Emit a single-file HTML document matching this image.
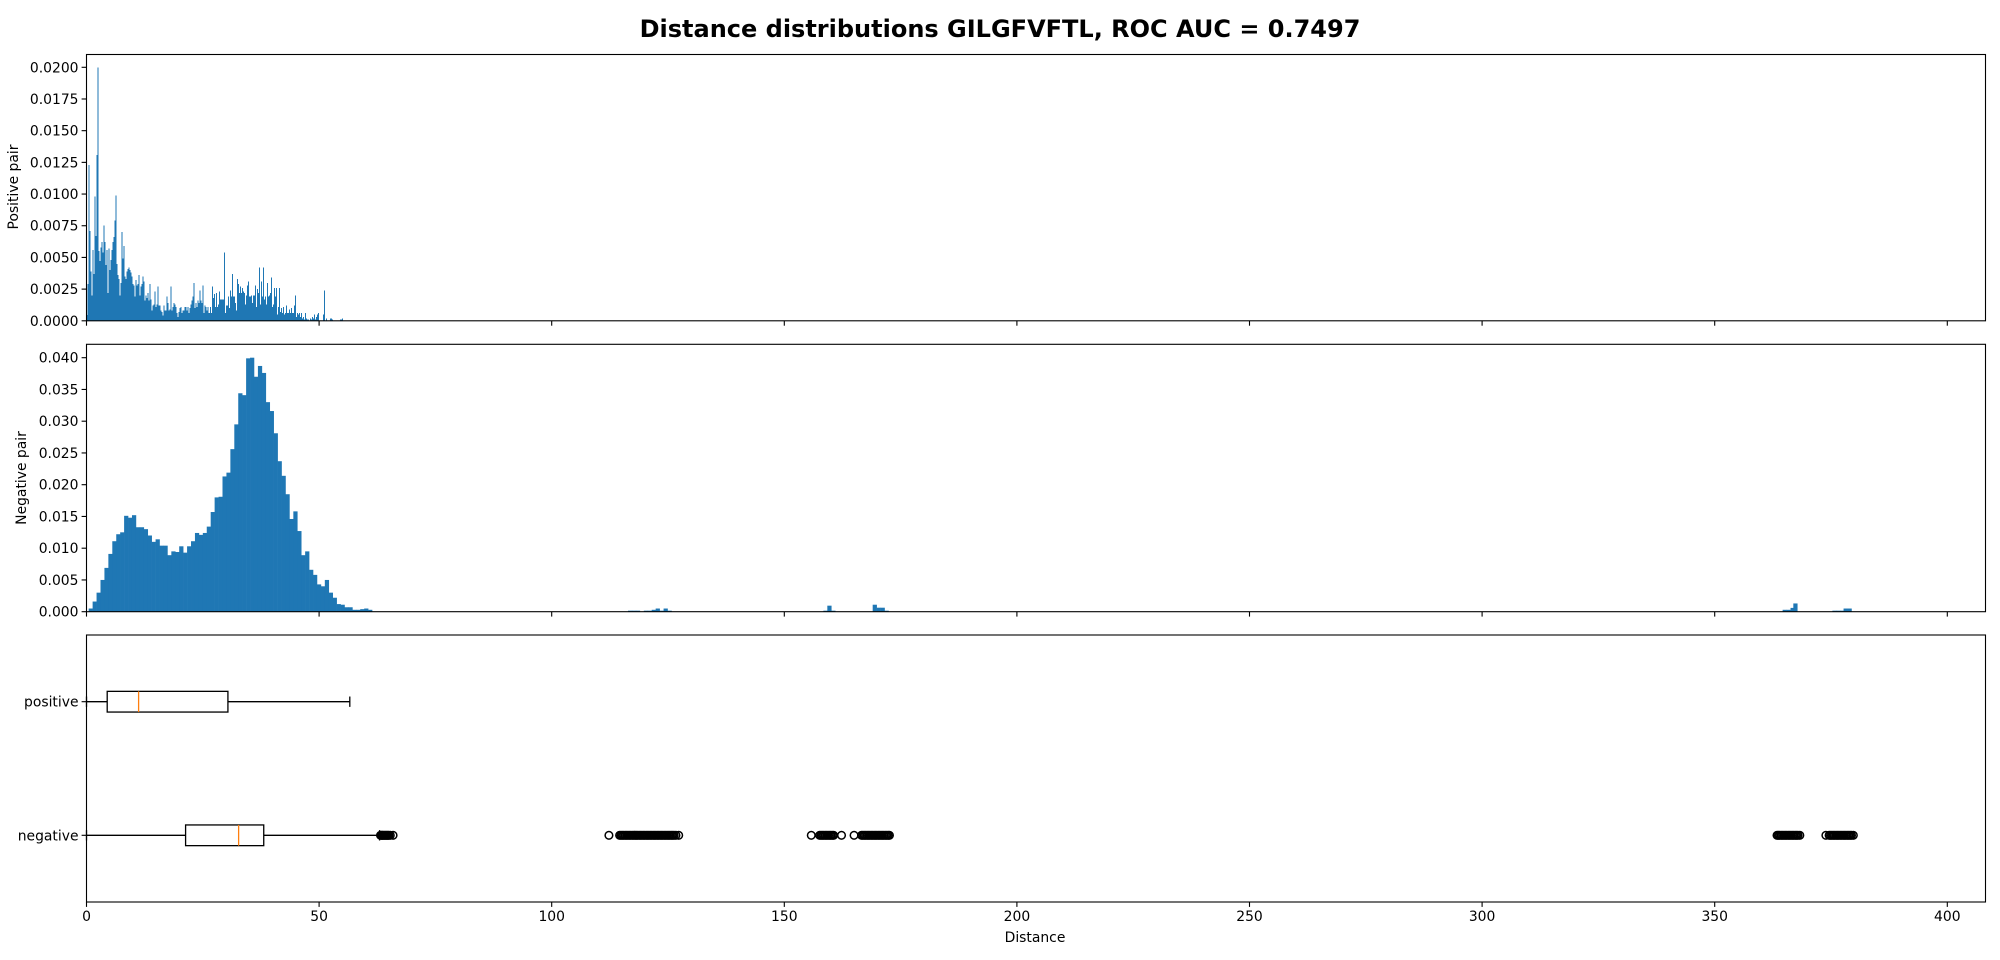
<!DOCTYPE html>
<html><head><meta charset="utf-8"><style>
html,body{margin:0;padding:0;background:#fff;}
svg{display:block;font-family:"DejaVu Sans","Liberation Sans",sans-serif;}
</style></head><body>
<svg id="fig" width="2000" height="960" viewBox="0 0 2000 960" xmlns="http://www.w3.org/2000/svg">
<text x="1000" y="37" text-anchor="middle" font-size="24" font-weight="bold" fill="#000">Distance distributions GILGFVFTL, ROC AUC = 0.7497</text>
<g id="top"></g>
<g id="mid"></g>
<g id="bot"></g>
<text transform="translate(18,187) rotate(-90)" text-anchor="middle" font-size="13.9">Positive pair</text>
<text transform="translate(26,478) rotate(-90)" text-anchor="middle" font-size="13.9">Negative pair</text>
<text x="1035" y="942" text-anchor="middle" font-size="13.9">Distance</text>
</svg>
<script>
// ---- data ----
const xTicks = [0,50,100,150,200,250,300,350,400];
const posTicks = [0,0.0025,0.005,0.0075,0.01,0.0125,0.015,0.0175,0.02];
const negTicks = [0,0.005,0.01,0.015,0.02,0.025,0.03,0.035,0.04];
const posBinStart = 0, posBinWidth = 0.2154;
const posVals = [0.00045,0.0029,0.0123,0.0071,0.0039,0.002,0.0056,0.0037,0.0098,0.0067,0.0131,0.02,0.0055,0.0047,0.0058,0.0062,0.0054,0.0075,0.0062,0.0044,0.0056,0.0022,0.0057,0.004,0.0048,0.0056,0.0062,0.0066,0.0079,0.0099,0.0045,0.0036,0.0033,0.002,0.003,0.007,0.0049,0.0059,0.0035,0.0033,0.0039,0.0041,0.0042,0.004,0.0038,0.0035,0.0029,0.0028,0.0019,0.0032,0.0028,0.0029,0.0036,0.002,0.0027,0.0029,0.0035,0.0031,0.0016,0.002,0.0018,0.0022,0.0016,0.0029,0.0017,0.0008,0.0012,0.0013,0.0023,0.0011,0.0013,0.0027,0.0012,0.0012,0.0008,0.0007,0.0004,0.0012,0.0008,0.0008,0.0019,0.0014,0.0008,0.0009,0.0027,0.0008,0.0011,0.0014,0.0013,0.0011,0.0006,0.0003,0.0007,0.001,0.0011,0.0006,0.0008,0.0008,0.0011,0.0011,0.0008,0.0011,0.0006,0.001,0.0013,0.0016,0.0019,0.003,0.001,0.0014,0.0011,0.0016,0.0014,0.0024,0.0016,0.0014,0.0028,0.0006,0.0012,0.0011,0.0008,0.0011,0.0006,0.0011,0.0006,0.0027,0.0018,0.0021,0.0011,0.0022,0.0011,0.0013,0.0023,0.0017,0.0017,0.0017,0.0017,0.0054,0.0006,0.0012,0.0012,0.0019,0.001,0.0024,0.0019,0.0037,0.0019,0.0019,0.0014,0.0008,0.0033,0.0029,0.0022,0.0027,0.0022,0.0026,0.0023,
0.0022,0.0013,0.002,0.0028,0.0031,0.0019,0.0019,0.002,0.0014,0.002,0.002,0.0028,0.0011,0.0025,0.0022,0.0042,0.0013,0.0031,0.0019,0.0042,0.0017,0.0019,0.0013,0.003,0.0019,0.002,0.0022,0.0034,0.0011,0.0013,0.0026,0.0019,0.0026,0.0005,0.0011,0.0026,0.0007,0.001,0.0006,0.0011,0.0005,0.0006,0.0012,0.0006,0.0006,0.0009,0.0006,0.001,0.0006,0.0006,0.0012,0.002,0.0003,0.0006,0.0005,0.0006,0.0003,0.0006,0.0002,0.0003,0.0001,0.0006,0.0002,0.0001,0.0001,0,0.0002,0.0001,0.0003,0.0002,0.0005,0.0001,0.0003,0.0005,0.0006,0,0,0,0,0.0005,0.0024,0,0.0002,0,0,0,0.0002,0.0002,0.0001,0,0,0,0,0,0,0,0.0001,0.0001,0.0002];
const negBinStart = 0.47, negBinWidth = 0.846;
const negVals = [0.0005,0.0016,0.003,0.005,0.0069,0.0091,0.0111,0.0122,0.0125,0.0151,0.0148,0.0152,0.0133,0.0133,0.0130,0.0120,0.0110,0.0114,0.0104,0.0104,0.0089,0.0095,0.0094,0.0103,0.0093,0.0103,0.0111,0.0124,0.0121,0.0124,0.0134,0.0157,0.0180,0.0181,0.0213,0.0219,0.0256,0.0295,0.0344,0.0341,0.0399,0.0400,0.0370,0.0387,0.0376,0.0330,0.0316,0.0281,0.0237,0.0214,0.0185,0.0146,0.0158,0.0127,0.0089,0.0095,0.0066,0.0058,0.0043,0.0040,0.0050,0.0030,0.0022,0.0012,0.0011,0.0007,0.0007,0.0003,0.0003,0.0004,0.0005,0.0003];
const negFarStarts = [116.4,117.25,118.1,119.8,120.65,121.5,122.35,123.2,124.05,124.9,158.4,159.25,160.1,169.0,169.85,170.7,171.55,364.6,365.45,366.3,366.9,375.3,376.15,377.0,377.7,378.55];
const negFarVals = [0.00016,0.00016,0.00016,0.00016,0.00016,0.0003,0.0005,0.00016,0.0005,0.00016,0.00016,0.00095,0.00016,0.0011,0.00063,0.00063,0.00016,0.0003,0.0003,0.0006,0.0013,0.00016,0.00016,0.00016,0.0005,0.0005];
const boxLabels = ["positive","negative"];
const boxMin = [0,0];
const boxQ1 = [4.45,21.3];
const boxMed = [11.2,32.7];
const boxQ3 = [30.4,38.1];
const boxMax = [56.6,63];
const posOutliers = [];
const negOutliers = [63.2,63.4,63.6,63.8,64.0,64.2,64.4,64.6,64.8,65.0,65.3,65.9,
112.3,114.6,114.9,115.2,115.5,115.8,116.1,116.4,116.7,117,117.3,117.6,117.9,118.2,118.5,118.8,119.1,119.4,119.7,120,120.3,120.6,120.9,121.2,121.5,121.8,122.1,122.4,122.7,123,123.3,123.6,123.9,124.2,124.5,124.8,125.1,125.4,125.7,126,126.3,126.7,127.3,
155.8,157.6,157.9,158.2,158.5,158.8,159.1,159.4,159.7,160,160.3,160.6,162.3,165,166.6,166.9,167.2,167.5,167.8,168.1,168.4,168.7,169,169.3,169.6,169.9,170.2,170.5,170.8,171.1,171.4,171.7,172,172.3,172.6,
363.4,363.7,364,364.3,364.6,364.9,365.2,365.5,365.8,366.1,366.4,366.7,367,367.3,367.6,367.9,368.3,
373.9,374.6,374.9,375.2,375.5,375.8,376.1,376.4,376.7,377,377.3,377.6,377.9,378.2,378.5,378.8,379.1,379.4,379.8];

// ---- layout ----
const L=86.5, R=1985.5, X0=86.5, XS=(1947.3-86.5)/400;
const fx = v => X0 + v*XS;
const NS="http://www.w3.org/2000/svg";
function el(tag, attrs, parent){const e=document.createElementNS(NS,tag);for(const k in attrs)e.setAttribute(k,attrs[k]);parent.appendChild(e);return e;}

function axesFrame(g, top, bot, showXLabels){
  for(const t of xTicks){
    const x=fx(t);
    const tk=el('line',{x1:x,x2:x,y1:bot,y2:bot+4.9,stroke:'#000','stroke-width':1.1},g);
    
    
    if(showXLabels){
      const tx=el('text',{x:x,y:bot+19,'text-anchor':'middle','font-size':13.9},g);
      tx.textContent=t;
      
      
    }
  }
  const fr=el('rect',{x:L,y:top,width:R-L,height:bot-top,fill:'none',stroke:'#000','stroke-width':1.1},g);
  
  
}
function yTicks(g, ticks, fy, dec){
  for(const t of ticks){
    const y=fy(t);
    const tk=el('line',{x1:L-4.9,x2:L,y1:y,y2:y,stroke:'#000','stroke-width':1.1},g);
    
    
    const tx=el('text',{x:L-8,y:y+5,'text-anchor':'end','font-size':13.9},g);
    tx.textContent=t.toFixed(dec);
    
    
  }
}
// top panel
(function(){
  const g=document.getElementById('top');
  const top=54.5, bot=320.8, fy=v=>bot-v*(bot-67.3)/0.02;
  posVals.forEach((v,i)=>{
    if(v<=0) return;
    const x0=fx(posBinStart+i*posBinWidth), x1=fx(posBinStart+(i+1)*posBinWidth);
    const r=el('rect',{x:x0,y:fy(v),width:Math.max(1,x1-x0),height:bot-fy(v),fill:'#1f77b4','shape-rendering':'crispEdges'},g);
    
    
  });
  yTicks(g,posTicks,fy,4);
  axesFrame(g,top,bot,false);
})();
// middle panel
(function(){
  const g=document.getElementById('mid');
  const top=344.3, bot=611.7, fy=v=>bot-v*(bot-357.7)/0.04;
  negVals.forEach((v,i)=>{
    const x0=fx(negBinStart+i*negBinWidth), x1=fx(negBinStart+(i+1)*negBinWidth);
    const r=el('rect',{x:x0,y:fy(v),width:x1-x0+0.3,height:bot-fy(v),fill:'#1f77b4'},g);
    
    
  });
  negFarStarts.forEach((s,i)=>{
    const v=negFarVals[i];
    const x0=fx(s), x1=fx(s+negBinWidth);
    const r=el('rect',{x:x0,y:fy(v),width:x1-x0+0.3,height:bot-fy(v),fill:'#1f77b4'},g);
    
    
  });
  yTicks(g,negTicks,fy,3);
  axesFrame(g,top,bot,false);
})();
// box panel
(function(){
  const g=document.getElementById('bot');
  const top=635, bot=902;
  const rowY=[701.7,835.3];
  const outs=[posOutliers,negOutliers];
  const bh=20.7;
  boxLabels.forEach((lab,i)=>{
    const y=rowY[i];
    const w1=el('line',{x1:fx(boxMin[i]),x2:fx(boxQ1[i]),y1:y,y2:y,stroke:'#000','stroke-width':1.3},g);
    
    
    const w2=el('line',{x1:fx(boxQ3[i]),x2:fx(boxMax[i]),y1:y,y2:y,stroke:'#000','stroke-width':1.3},g);
    
    
    [boxMin[i],boxMax[i]].forEach(c=>{
      const cp=el('line',{x1:fx(c),x2:fx(c),y1:y-bh/4,y2:y+bh/4,stroke:'#000','stroke-width':1.3},g);
      
      
    });
    const b=el('rect',{x:fx(boxQ1[i]),y:y-bh/2,width:fx(boxQ3[i])-fx(boxQ1[i]),height:bh,fill:'none',stroke:'#000','stroke-width':1.3},g);
    
    
    const m=el('line',{x1:fx(boxMed[i]),x2:fx(boxMed[i]),y1:y-bh/2,y2:y+bh/2,stroke:'#ff7f0e','stroke-width':1.3},g);
    
    
    outs[i].forEach(o=>{
      const c=el('circle',{cx:fx(o),cy:y,r:3.8,fill:'none',stroke:'#000','stroke-width':1.5},g);
      
      
    });
    const tk=el('line',{x1:L-4.9,x2:L,y1:y,y2:y,stroke:'#000','stroke-width':1.1},g);
    
    
    const tx=el('text',{x:L-8,y:y+5,'text-anchor':'end','font-size':13.9},g);
    tx.textContent=lab;
    
    
  });
  axesFrame(g,top,bot,true);
})();
</script>
</body></html>
